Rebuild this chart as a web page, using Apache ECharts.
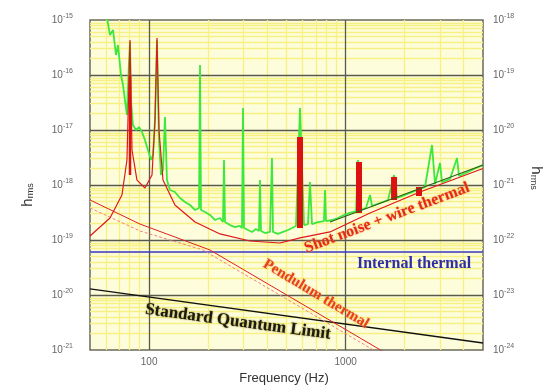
<!DOCTYPE html>
<html>
<head>
<meta charset="utf-8">
<script src="https://cdn.jsdelivr.net/npm/echarts@6/dist/echarts.min.js"></script>
<style>
html, body { margin: 0; padding: 0; background: #fff; }
#main { width: 557px; height: 391px; }
</style>
</head>
<body>
<div id="main"></div>
<script>
// frequency axis (Hz) and the two strain scales (decade exponents)
var freqRange = [50, 5000];
var xTickLabels = [100, 1000];
var leftDecades = [-21, -15];
var rightDecades = [-24, -18];

// measured noise spectrum [Hz, h] (green)
var measuredNoise = [
  [61.0, 1.09e-15], [63.2, 5.34e-16], [65.5, 6.58e-16], [67.8, 2.31e-16], [69.4, 3.51e-16],
  [71.9, 1.0e-16], [73.6, 6.58e-17], [75.3, 3.51e-17], [77.1, 1.87e-17], [79.0, 1.87e-16],
  [79.9, 3.98e-16], [80.8, 3.51e-17], [82.7, 1.23e-17], [85.7, 1.0e-17], [88.8, 1.13e-17],
  [91.9, 9.2e-18], [95.2, 6.58e-18], [98.6, 4.33e-18], [102.2, 2.85e-18], [104.6, 3.51e-18],
  [107.1, 1.52e-17], [109.6, 4.33e-16], [112.2, 6.58e-18], [114.9, 1.52e-18], [117.6, 1.87e-18],
  [120.4, 1.72e-17], [123.2, 1.23e-18], [127.6, 8.11e-19], [135.3, 7.46e-19], [143.5, 5.80e-19],
  [152.2, 4.91e-19], [161.4, 4.33e-19], [171.2, 3.51e-19], [179.4, 3.82e-19], [181.5, 1.52e-16],
  [183.6, 3.51e-19], [192.4, 3.23e-19], [204.0, 2.85e-19], [216.3, 2.31e-19], [229.4, 2.51e-19],
  [237.6, 2.12e-19], [240.4, 2.85e-18], [243.2, 2.12e-19], [257.9, 1.87e-19], [273.4, 1.72e-19],
  [289.9, 1.80e-19], [296.8, 1.65e-19], [300.3, 2.51e-17], [303.8, 1.65e-19], [318.4, 1.52e-19],
  [333.7, 1.40e-19], [349.7, 1.58e-19], [362.2, 1.46e-19], [366.5, 1.23e-18], [370.8, 1.46e-19],
  [388.6, 1.34e-19], [412.0, 1.40e-19], [421.7, 3.10e-18], [426.7, 1.40e-19], [452.4, 1.29e-19],
  [479.7, 1.40e-19], [508.9, 1.52e-19], [533.3, 1.65e-19], [558.9, 1.80e-19], [585.7, 2.51e-17],
  [613.8, 1.87e-19], [643.2, 1.95e-19], [658.4, 1.13e-18], [674.0, 1.95e-19], [723.3, 2.12e-19],
  [775.8, 2.21e-19], [784.9, 8.11e-19], [794.2, 2.21e-19], [852.0, 2.31e-19], [914.1, 2.51e-19],
  [980.7, 2.85e-19], [1052, 3.10e-19], [1129, 3.37e-19], [1156, 2.85e-18], [1183, 3.51e-19],
  [1269, 3.82e-19], [1330, 6.58e-19], [1362, 4.15e-19], [1496, 4.71e-19], [1643, 5.34e-19],
  [1763, 1.52e-18], [1826, 5.80e-19], [2005, 6.58e-19], [2254, 7.78e-19], [2534, 9.20e-19],
  [2751, 5.34e-18], [2849, 1.04e-18], [3021, 2.51e-18], [3093, 1.13e-18], [3397, 1.29e-18],
  [3688, 3.10e-18], [3775, 1.46e-18], [4194, 1.72e-18], [4607, 2.04e-18], [5000, 2.31e-18]
];

// seismic + shot noise + wire thermal model (thin red)
var modelNoise = [
  [50, 1.18e-19], [63.2, 2.51e-19], [72.7, 6.58e-19], [77.1, 2.85e-18], [79.9, 4.33e-16],
  [81.8, 4.33e-18], [86.7, 1.23e-18], [95.2, 8.82e-19], [103.4, 1.52e-18], [107.1, 1.52e-17],
  [109.6, 4.71e-16], [112.2, 1.0e-17], [117.6, 1.23e-18], [135.3, 4.33e-19], [171.2, 2.12e-19],
  [229.4, 1.29e-19], [326, 9.59e-20], [463, 8.82e-20], [586, 1.09e-19], [832, 1.40e-19],
  [1330, 3.10e-19], [2390, 7.46e-19], [5000, 2.0e-18]
];

// violin-mode peaks of the model [Hz, top, bottom] (thick red)
var violinModes = [
  [79.9, 1.0e-16, 1.52e-18],
  [585.7, 7.46e-18, 1.65e-19],
  [1169, 2.62e-18, 3.10e-19],
  [1763, 1.40e-18, 5.34e-19],
  [2362, 9.20e-19, 6.31e-19]
];

// straight reference curves
var shotFit = [[832, 2.12e-19], [5000, 2.31e-18]];
var pendulumThermal = [[50, 5.34e-19], [89.8, 1.95e-19], [204, 6.58e-20], [1444, 1.09e-21], [2390, 3.82e-22]];
var pendulumAlt = [[50, 3.82e-19], [89.8, 1.46e-19], [188, 6.58e-20], [1330, 1.09e-21], [2176, 3.82e-22]];
var internalThermal = [[50, 6.05e-20], [5000, 6.05e-20]];
var quantumLimit = [[50, 1.29e-20], [5000, 1.34e-21]];

var serif = '"Liberation Serif", "DejaVu Serif", serif';
var sans = '"Liberation Sans", "DejaVu Sans", sans-serif';
var lg = function (v) { return Math.log(v) / Math.LN10; };
// both axes are logarithmic: plot log10 of each value on value axes
var toLog = function (pts) { return pts.map(function (p) { return [lg(p[0]), lg(p[1])]; }); };

var chart = echarts.init(document.getElementById('main'));

function powLabel(v) { return '10{s|' + Math.round(v) + '}'; }

// grid lines: minor at 2..9 x decade, major at decades
var minorLines = [], majorLines = [];
[10, 100, 1000].forEach(function (d) {
  for (var k = 2; k <= 9; k++) {
    var f = k * d;
    if (f > freqRange[0] && f < freqRange[1]) minorLines.push({ xAxis: lg(f) });
  }
});
for (var e = leftDecades[0]; e < leftDecades[1]; e++) {
  for (var k = 2; k <= 9; k++) minorLines.push({ yAxis: e + lg(k) });
  if (e > leftDecades[0]) majorLines.push({ yAxis: e });
}
xTickLabels.forEach(function (f) { majorLines.push({ xAxis: lg(f) }); });

function gridSeries(lines, color, width, z) {
  return {
    type: 'line', data: [], z: z, silent: true,
    markLine: {
      z: z, silent: true, symbol: ['none', 'none'], label: { show: false },
      emphasis: { disabled: true },
      lineStyle: { color: color, width: width, type: 'solid' },
      data: lines
    }
  };
}

function curve(data, color, width, dash) {
  return {
    type: 'line', data: toLog(data), showSymbol: false, symbol: 'none', z: 6,
    lineStyle: { color: color, width: width, type: dash || 'solid' }
  };
}

var series = [
  gridSeries(minorLines, '#f6f182', 1.3, 1),
  gridSeries(majorLines, '#5a5a48', 1.3, 2),
  curve(internalThermal, '#3a3ad0', 1.5),
  curve(quantumLimit, '#111', 1.3),
  curve(pendulumAlt, '#f08080', 1, [3, 2]),
  curve(pendulumThermal, '#e02020', 1),
  curve(measuredNoise, '#3de83d', 1.8),
  curve(modelNoise, '#e01818', 1.2)
];
violinModes.forEach(function (v, i) {
  series.push(curve([[v[0], v[1]], [v[0], v[2]]], '#dd1111', i === 0 ? 2.5 : 6));
});
series.push(curve(shotFit, '#2e5e1c', 1.2));

var yLabel = {
  color: '#666', fontSize: 10, fontFamily: sans, formatter: powLabel,
  rich: { s: { fontSize: 7, color: '#666', padding: [0, 0, 7, 0], fontFamily: sans } }
};

var option = {
  animation: false,
  backgroundColor: '#fff',
  grid: {
    left: 90, top: 20, width: 393, height: 330,
    show: true, backgroundColor: '#fdfddc', borderColor: '#6a6a5a', borderWidth: 1.5
  },
  xAxis: {
    type: 'value', min: lg(freqRange[0]), max: lg(freqRange[1]),
    axisLine: { show: false }, axisTick: { show: false }, splitLine: { show: false },
    axisLabel: {
      margin: 7, color: '#666', fontSize: 10, fontFamily: sans,
      customValues: xTickLabels.map(lg),
      formatter: function (v) { return String(Math.round(Math.pow(10, v))); }
    }
  },
  yAxis: [{
    type: 'value', min: leftDecades[0], max: leftDecades[1], interval: 1,
    axisLine: { show: false }, axisTick: { show: false }, splitLine: { show: false },
    axisLabel: Object.assign({ margin: 17 }, yLabel)
  }, {
    type: 'value', min: rightDecades[0], max: rightDecades[1], interval: 1, position: 'right',
    axisLine: { show: false }, axisTick: { show: false }, splitLine: { show: false },
    axisLabel: Object.assign({ margin: 10 }, yLabel)
  }],
  series: series,
  graphic: [
    { type: 'text', x: 284, y: 378, style: { text: 'Frequency (Hz)', fill: '#333', font: '13px ' + sans, align: 'center', verticalAlign: 'middle' } },
    { type: 'text', x: 28, y: 195, rotation: Math.PI / 2, style: {
      text: '{h|h}{s|rms}', align: 'center', verticalAlign: 'middle',
      rich: { h: { fontSize: 15, fill: '#333', fontFamily: sans }, s: { fontSize: 9, fill: '#333', fontFamily: sans, padding: [6, 0, 0, 0] } } } },
    { type: 'text', x: 536, y: 178, rotation: -Math.PI / 2, style: {
      text: '{h|h}{s|rms}', align: 'center', verticalAlign: 'middle',
      rich: { h: { fontSize: 15, fill: '#333', fontFamily: sans }, s: { fontSize: 9, fill: '#333', fontFamily: sans, padding: [6, 0, 0, 0] } } } },
    { type: 'text', x: 414, y: 264, z: 10, style: { text: 'Internal thermal', fill: '#2e2ea8', font: 'bold 16px ' + serif, align: 'center', verticalAlign: 'middle' } },
    { type: 'text', x: 387, y: 218, rotation: 0.36, z: 10, style: { text: 'Shot noise + wire thermal', fill: '#e62a1a', font: 'bold 16px ' + serif, align: 'center', verticalAlign: 'middle', textShadowColor: '#f5a040', textShadowBlur: 2 } },
    { type: 'text', x: 316, y: 294, rotation: -0.54, z: 10, style: { text: 'Pendulum thermal', fill: '#e8401a', font: 'bold 15px ' + serif, align: 'center', verticalAlign: 'middle', textShadowColor: '#f5a040', textShadowBlur: 2 } },
    { type: 'text', x: 238, y: 322, rotation: -0.134, z: 10, style: { text: 'Standard Quantum Limit', fill: '#1a1a10', font: 'bold 17px ' + serif, align: 'center', verticalAlign: 'middle', textShadowColor: '#8c7a10', textShadowBlur: 2 } }
  ]
};

chart.setOption(option);
</script>
</body>
</html>
